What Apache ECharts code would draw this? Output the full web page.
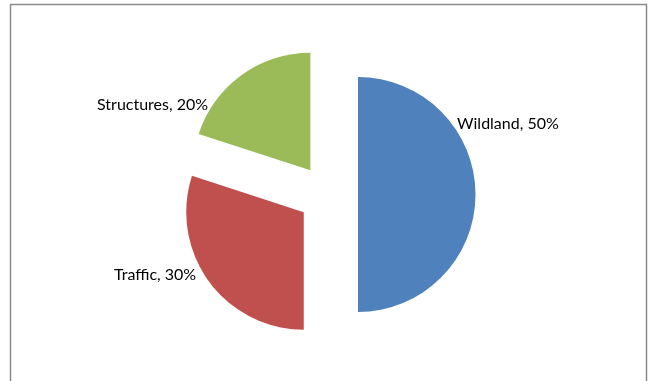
<!DOCTYPE html>
<html>
<head>
<meta charset="utf-8">
<style>
  html, body { margin: 0; padding: 0; background: #ffffff; }
  #chart { width: 654px; height: 381px; }
</style>
<script src="https://cdn.jsdelivr.net/npm/echarts@6/dist/echarts.min.js"></script>
</head>
<body>
<div id="chart"></div>
<script>
// Fire sources, share of incidents
const categories = ['Wildland', 'Traffic', 'Structures'];
const shares = [50, 30, 20];
const sliceColors = ['#4F81BD', '#C0504D', '#9BBB59'];

// where each slice's caption sits (left edge, vertical middle)
const labelSpots = [
  { x: 457, y: 124 },
  { x: 114, y: 275 },
  { x: 97, y: 105 }
];

const labelFont = '16px Lato, "Open Sans", sans-serif';

const chart = echarts.init(document.getElementById('chart'), null, { renderer: 'canvas' });

// Exploded slices keep their select-state offset on the label too,
// so the captions are placed as free text built from the same data.
const captions = categories.map((name, i) => ({
  type: 'text',
  x: labelSpots[i].x,
  y: labelSpots[i].y,
  silent: true,
  style: {
    text: name + ', ' + shares[i] + '%',
    font: labelFont,
    fill: '#000000',
    align: 'left',
    verticalAlign: 'middle'
  },
  z: 20
}));

chart.setOption({
  backgroundColor: '#ffffff',
  animation: false,
  graphic: [{
    type: 'rect',
    shape: { x: 10.5, y: 4.5, width: 636, height: 400 },
    style: { fill: null, stroke: '#8c8c8c', lineWidth: 1.5 },
    silent: true,
    z: 10
  }].concat(captions),
  series: [{
    type: 'pie',
    center: [328, 194.5],
    radius: 117.5,
    startAngle: 90,
    clockwise: true,
    selectedMode: 'multiple',
    selectedOffset: 30,
    emphasis: { disabled: true },
    label: { show: false },
    labelLine: { show: false },
    data: categories.map((name, i) => ({
      name: name,
      value: shares[i],
      selected: true,
      itemStyle: { color: sliceColors[i] }
    }))
  }]
});
</script>
</body>
</html>
